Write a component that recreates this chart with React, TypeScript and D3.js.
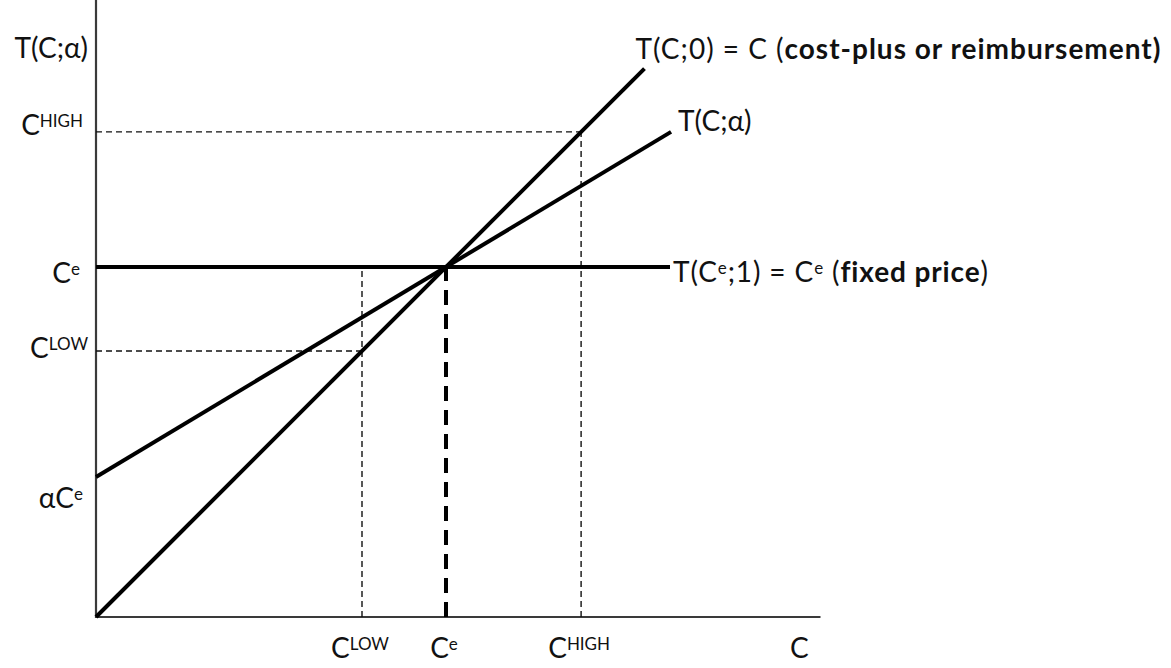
import React, { useEffect, useRef } from 'react';
import * as d3 from 'd3';

type Pt = { c: number; t: number };
type Seg = { text: string; sup?: boolean; bold?: boolean };

// transfer schedules, cost C against payment T (C^e = 1)
const costPlusLine: Pt[] = [
  { c: 0, t: 0 },
  { c: 1.567, t: 1.567 },
];
const incentiveLine: Pt[] = [
  { c: 0, t: 0.4 },
  { c: 1.643, t: 1.386 },
];
const fixedPriceLine: Pt[] = [
  { c: 0, t: 1 },
  { c: 1.64, t: 1 },
];

// C^LOW, C^e, C^HIGH on the cost axis
const costMarks = [0.76, 1, 1.386];
const costMarkNames = ['LOW', 'e', 'HIGH'];
// where each vertical guide stops going up
const guideTops = [1, 1, 1.386];
// horizontal guides back to the T axis
const levelMarks = [1.386, 0.76];

// labels on the T axis
const tMarks = [1.386, 1, 0.76, 0.4];
const tMarkLabels: Seg[][] = [
  [{ text: 'C' }, { text: 'HIGH', sup: true }],
  [{ text: 'C' }, { text: 'e', sup: true }],
  [{ text: 'C' }, { text: 'LOW', sup: true }],
  [{ text: 'αC' }, { text: 'e', sup: true }],
];

const curveLabels: Seg[][] = [
  [{ text: 'T(C;0) = C (' }, { text: 'cost-plus or reimbursement)', bold: true }],
  [{ text: 'T(C;α)' }],
  [
    { text: 'T(C' },
    { text: 'e', sup: true },
    { text: ';1) = C' },
    { text: 'e', sup: true },
    { text: ' (' },
    { text: 'fixed price', bold: true },
    { text: ')' },
  ],
];

const axisTitleT = 'T(C;α)';
const axisTitleC = 'C';

const width = 1171;
const height = 668;

const App: React.FC = () => {
  const svgRef = useRef<SVGSVGElement>(null);

  useEffect(() => {
    if (!svgRef.current) return;
    document.body.style.margin = '0';

    const fontSize = 28;
    const supSize = 17;
    const supRise = 8;

    const svg = d3.select(svgRef.current);
    svg.selectAll('*').remove();

    const x = d3.scaleLinear().domain([0, 1]).range([96, 446]);
    const y = d3.scaleLinear().domain([0, 1]).range([617, 267]);

    const line = d3
      .line<Pt>()
      .x((d) => x(d.c))
      .y((d) => y(d.t));

    // writes a label made of plain, bold and superscript pieces
    const label = (
      px: number,
      py: number,
      anchor: string,
      segs: Seg[],
      fitWidth?: number,
    ) => {
      const t = svg
        .append('text')
        .attr('x', px)
        .attr('y', py)
        .attr('text-anchor', anchor)
        .attr('font-size', fontSize)
        .attr('fill', '#111')
        .style('white-space', 'pre')
        .style('font-variant-ligatures', 'none');
      if (fitWidth) t.attr('textLength', fitWidth).attr('lengthAdjust', 'spacing');
      let raised = false;
      segs.forEach((s) => {
        const span = t.append('tspan').text(s.text);
        if (s.sup) {
          span.attr('font-size', supSize);
          if (!raised) span.attr('dy', -supRise);
          raised = true;
        } else {
          if (raised) span.attr('dy', supRise);
          raised = false;
        }
        if (s.bold) span.attr('font-weight', 700);
      });
    };

    // axes
    svg
      .append('path')
      .attr('d', line([{ c: 0, t: 1.77 }, { c: 0, t: 0 }, { c: 2.07, t: 0 }]))
      .attr('fill', 'none')
      .attr('stroke', '#3a3a3a')
      .attr('stroke-width', 2.2);

    // thin dashed guides
    costMarks.forEach((c, i) => {
      if (c === 1) return;
      svg
        .append('path')
        .attr('d', line([{ c, t: 0 }, { c, t: guideTops[i] }]))
        .attr('fill', 'none')
        .attr('stroke', '#111')
        .attr('stroke-width', 1.4)
        .attr('stroke-dasharray', '6,4');
    });
    levelMarks.forEach((v) => {
      svg
        .append('path')
        .attr('d', line([{ c: 0, t: v }, { c: v, t: v }]))
        .attr('fill', 'none')
        .attr('stroke', '#111')
        .attr('stroke-width', 1.4)
        .attr('stroke-dasharray', '6,4');
    });

    // heavy dashed drop at C^e
    svg
      .append('path')
      .attr('d', line([{ c: 1, t: 0 }, { c: 1, t: guideTops[1] }]))
      .attr('fill', 'none')
      .attr('stroke', '#000')
      .attr('stroke-width', 4)
      .attr('stroke-dasharray', '15,9');

    // schedules
    [costPlusLine, incentiveLine, fixedPriceLine].forEach((d) => {
      svg
        .append('path')
        .attr('d', line(d))
        .attr('fill', 'none')
        .attr('stroke', '#000')
        .attr('stroke-width', 4);
    });

    // curve labels
    const cpEnd = costPlusLine[costPlusLine.length - 1];
    const inEnd = incentiveLine[incentiveLine.length - 1];
    const fpEnd = fixedPriceLine[fixedPriceLine.length - 1];
    label(x(cpEnd.c) - 9, y(cpEnd.t) - 10, 'start', curveLabels[0], 525);
    label(x(inEnd.c) + 7, y(inEnd.t) - 1, 'start', curveLabels[1]);
    label(x(fpEnd.c) + 3, y(fpEnd.t) + 15, 'start', curveLabels[2], 315);

    // T axis labels
    label(88, 58, 'end', [{ text: axisTitleT }]);
    const tRight = [83, 80, 88, 83];
    const tDrop = [3, 16, 7, 31];
    tMarks.forEach((v, i) => {
      label(tRight[i], y(v) + tDrop[i], 'end', tMarkLabels[i]);
    });

    // C axis labels
    costMarks.forEach((c, i) => {
      label(x(c) - 2, y(0) + 41, 'middle', [
        { text: 'C' },
        { text: costMarkNames[i], sup: true },
      ]);
    });
    label(790, y(0) + 41, 'start', [{ text: axisTitleC }]);
  }, []);

  return (
    <svg
      ref={svgRef}
      width={width}
      height={height}
      style={{
        display: 'block',
        background: '#fff',
        fontFamily: 'Lato, "Noto Sans", sans-serif',
      }}
    />
  );
};

export default App;
